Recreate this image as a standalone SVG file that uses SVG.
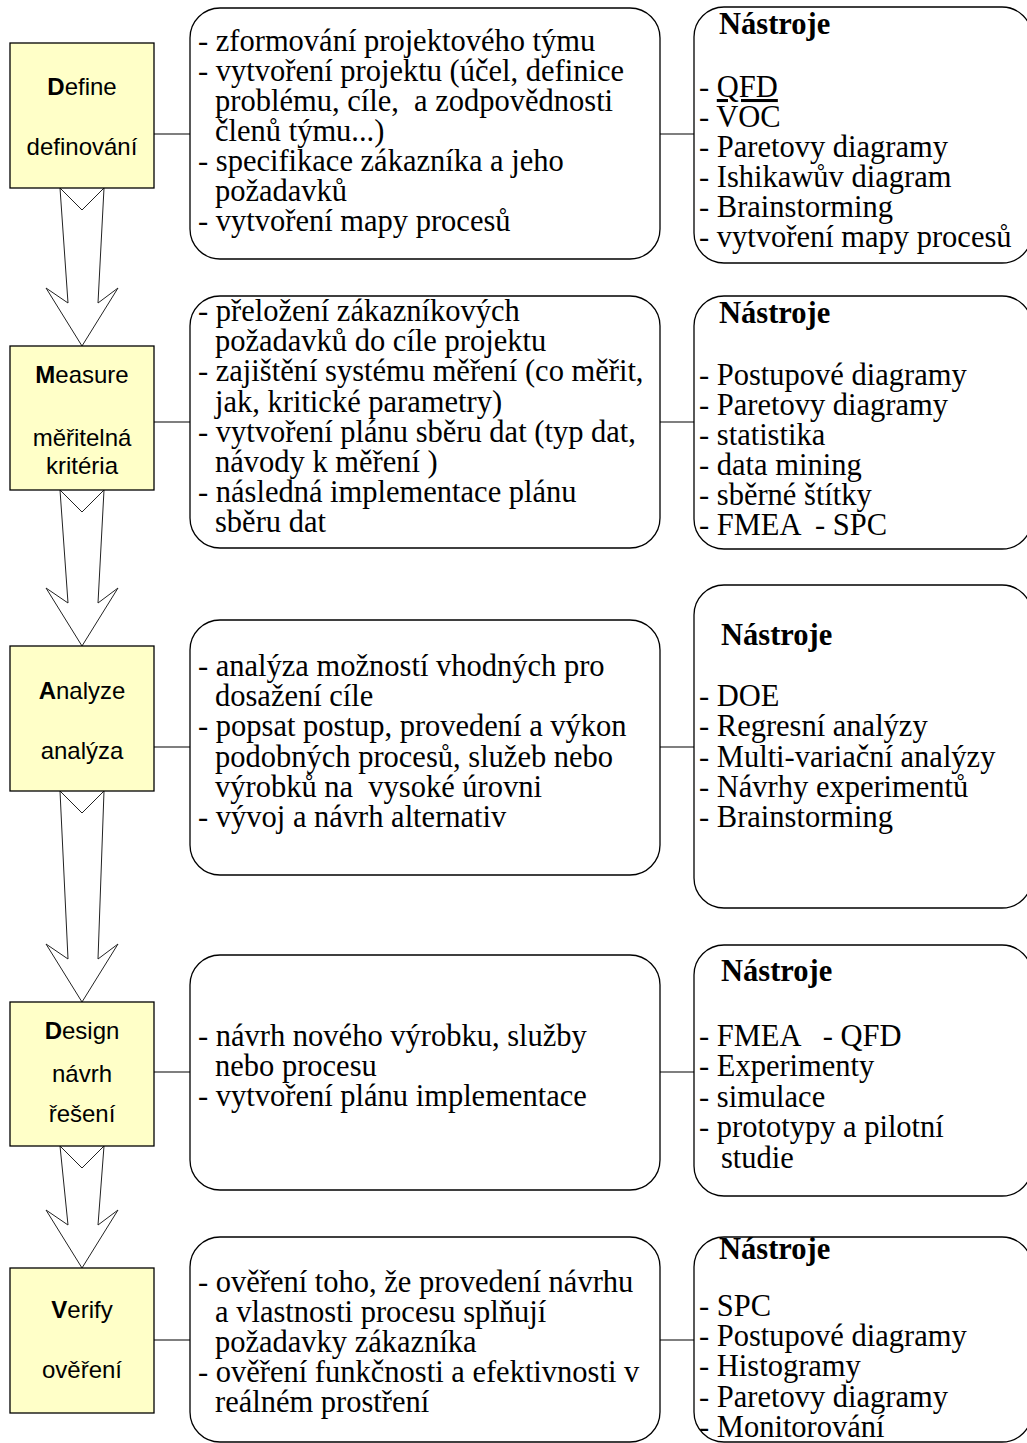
<svg xmlns="http://www.w3.org/2000/svg" width="1027" height="1443" viewBox="0 0 1027 1443">
<style>
.step{fill:#FFFFC8;stroke:#000;stroke-width:1.3}
.mid{fill:#fff;stroke:#000;stroke-width:1.3}
.arr{fill:#fff;stroke:#222;stroke-width:1}
.con{stroke:#555;stroke-width:1.5;fill:none}
.lab{font-family:"Liberation Sans",Arial,sans-serif;font-size:24px;fill:#000;text-anchor:middle}
.t{font-family:"Liberation Serif","Times New Roman",serif;font-size:30.5px;fill:#000}
.b{font-family:"Liberation Serif","Times New Roman",serif;font-size:30.5px;font-weight:bold;fill:#000}
</style>
<rect width="1027" height="1443" fill="#fff"/>
<g id="arrows">
<polygon class="arr" points="60,188 82,210 104,188 98,303 118,288 82,346 46,288 68,303"/>
<polygon class="arr" points="60,490 82,512 104,490 98,603 118,588 82,646 46,588 68,603"/>
<polygon class="arr" points="60,791 82,813 104,791 98,959 118,944 82,1002 46,944 68,959"/>
<polygon class="arr" points="60,1146 82,1168 104,1146 98,1225 118,1210 82,1268 46,1210 68,1225"/>
</g>
<g id="connectors">
<line class="con" x1="154" y1="134" x2="190" y2="134"/><line class="con" x1="660" y1="134" x2="694" y2="134"/>
<line class="con" x1="154" y1="422" x2="190" y2="422"/><line class="con" x1="660" y1="422" x2="694" y2="422"/>
<line class="con" x1="154" y1="747" x2="190" y2="747"/><line class="con" x1="660" y1="747" x2="694" y2="747"/>
<line class="con" x1="154" y1="1072" x2="190" y2="1072"/><line class="con" x1="660" y1="1072" x2="694" y2="1072"/>
<line class="con" x1="154" y1="1340" x2="190" y2="1340"/><line class="con" x1="660" y1="1340" x2="694" y2="1340"/>
</g>
<g id="define">
<rect class="step" x="10" y="43" width="144" height="145"/>
<text class="lab" x="82" y="95"><tspan font-weight="bold">D</tspan>efine</text>
<text class="lab" x="82" y="155">definování</text>
</g>
<g id="define-tasks">
<rect class="mid" x="190" y="8" width="470" height="251" rx="30"/>
<text class="t" xml:space="preserve"><tspan x="198" y="51">- zformování projektového týmu</tspan><tspan x="198" y="81">- vytvoření projektu (účel, definice</tspan><tspan x="215" y="111">problému, cíle,  a zodpovědnosti</tspan><tspan x="215" y="141">členů týmu...)</tspan><tspan x="198" y="171">- specifikace zákazníka a jeho</tspan><tspan x="215" y="201">požadavků</tspan><tspan x="198" y="231">- vytvoření mapy procesů</tspan></text>
</g>
<g id="define-tools">
<rect class="mid" x="694" y="7" width="338" height="256" rx="30"/>
<text class="b" x="719" y="34">Nástroje</text>
<text class="t"><tspan x="699" y="97">- <tspan text-decoration="underline">QFD</tspan></tspan><tspan x="699" y="127">- VOC</tspan><tspan x="699" y="157">- Paretovy diagramy</tspan><tspan x="699" y="187">- Ishikawův diagram</tspan><tspan x="699" y="217">- Brainstorming</tspan><tspan x="699" y="247">- vytvoření mapy procesů</tspan></text>
</g>
<g id="measure">
<rect class="step" x="10" y="346" width="144" height="144"/>
<text class="lab" x="82" y="383"><tspan font-weight="bold">M</tspan>easure</text>
<text class="lab" x="82" y="446">měřitelná</text>
<text class="lab" x="82" y="474">kritéria</text>
</g>
<g id="measure-tasks">
<rect class="mid" x="190" y="296" width="470" height="252" rx="30"/>
<text class="t"><tspan x="198" y="321">- přeložení zákazníkových</tspan><tspan x="215" y="351">požadavků do cíle projektu</tspan><tspan x="198" y="381">- zajištění systému měření (co měřit,</tspan><tspan x="215" y="412">jak, kritické parametry)</tspan><tspan x="198" y="442">- vytvoření plánu sběru dat (typ dat,</tspan><tspan x="215" y="472">návody k měření )</tspan><tspan x="198" y="502">- následná implementace plánu</tspan><tspan x="215" y="532">sběru dat</tspan></text>
</g>
<g id="measure-tools">
<rect class="mid" x="694" y="296" width="338" height="253" rx="30"/>
<text class="b" x="719" y="323">Nástroje</text>
<text class="t" xml:space="preserve"><tspan x="699" y="385">- Postupové diagramy</tspan><tspan x="699" y="415">- Paretovy diagramy</tspan><tspan x="699" y="445">- statistika</tspan><tspan x="699" y="475">- data mining</tspan><tspan x="699" y="505">- sběrné štítky</tspan><tspan x="699" y="535">- FMEA  - SPC</tspan></text>
</g>
<g id="analyze">
<rect class="step" x="10" y="646" width="144" height="145"/>
<text class="lab" x="82" y="699"><tspan font-weight="bold">A</tspan>nalyze</text>
<text class="lab" x="82" y="759">analýza</text>
</g>
<g id="analyze-tasks">
<rect class="mid" x="190" y="620" width="470" height="255" rx="30"/>
<text class="t" xml:space="preserve"><tspan x="198" y="676">- analýza možností vhodných pro</tspan><tspan x="215" y="706">dosažení cíle</tspan><tspan x="198" y="736">- popsat postup, provedení a výkon</tspan><tspan x="215" y="767">podobných procesů, služeb nebo</tspan><tspan x="215" y="797">výrobků na  vysoké úrovni</tspan><tspan x="198" y="827">- vývoj a návrh alternativ</tspan></text>
</g>
<g id="analyze-tools">
<rect class="mid" x="694" y="585" width="338" height="323" rx="30"/>
<text class="b" x="721" y="645">Nástroje</text>
<text class="t"><tspan x="699" y="706">- DOE</tspan><tspan x="699" y="736">- Regresní analýzy</tspan><tspan x="699" y="767">- Multi-variační analýzy</tspan><tspan x="699" y="797">- Návrhy experimentů</tspan><tspan x="699" y="827">- Brainstorming</tspan></text>
</g>
<g id="design">
<rect class="step" x="10" y="1002" width="144" height="144"/>
<text class="lab" x="82" y="1039"><tspan font-weight="bold">D</tspan>esign</text>
<text class="lab" x="82" y="1082">návrh</text>
<text class="lab" x="82" y="1122">řešení</text>
</g>
<g id="design-tasks">
<rect class="mid" x="190" y="955" width="470" height="235" rx="30"/>
<text class="t"><tspan x="198" y="1046">- návrh nového výrobku, služby</tspan><tspan x="215" y="1076">nebo procesu</tspan><tspan x="198" y="1106">- vytvoření plánu implementace</tspan></text>
</g>
<g id="design-tools">
<rect class="mid" x="694" y="945" width="338" height="251" rx="30"/>
<text class="b" x="721" y="981">Nástroje</text>
<text class="t" xml:space="preserve"><tspan x="699" y="1046">- FMEA   - QFD</tspan><tspan x="699" y="1076">- Experimenty</tspan><tspan x="699" y="1107">- simulace</tspan><tspan x="699" y="1137">- prototypy a pilotní</tspan><tspan x="721" y="1168">studie</tspan></text>
</g>
<g id="verify">
<rect class="step" x="10" y="1268" width="144" height="145"/>
<text class="lab" x="82" y="1318"><tspan font-weight="bold">V</tspan>erify</text>
<text class="lab" x="82" y="1378">ověření</text>
</g>
<g id="verify-tasks">
<rect class="mid" x="190" y="1237" width="470" height="205" rx="30"/>
<text class="t"><tspan x="198" y="1292">- ověření toho, že provedení návrhu</tspan><tspan x="215" y="1322">a vlastnosti procesu splňují</tspan><tspan x="215" y="1352">požadavky zákazníka</tspan><tspan x="198" y="1382">- ověření funkčnosti a efektivnosti v</tspan><tspan x="215" y="1412">reálném prostření</tspan></text>
</g>
<g id="verify-tools">
<rect class="mid" x="694" y="1237" width="338" height="205" rx="30"/>
<text class="b" x="719" y="1259">Nástroje</text>
<text class="t"><tspan x="699" y="1316">- SPC</tspan><tspan x="699" y="1346">- Postupové diagramy</tspan><tspan x="699" y="1376">- Histogramy</tspan><tspan x="699" y="1407">- Paretovy diagramy</tspan><tspan x="699" y="1437">- Monitorování</tspan></text>
</g>
</svg>
